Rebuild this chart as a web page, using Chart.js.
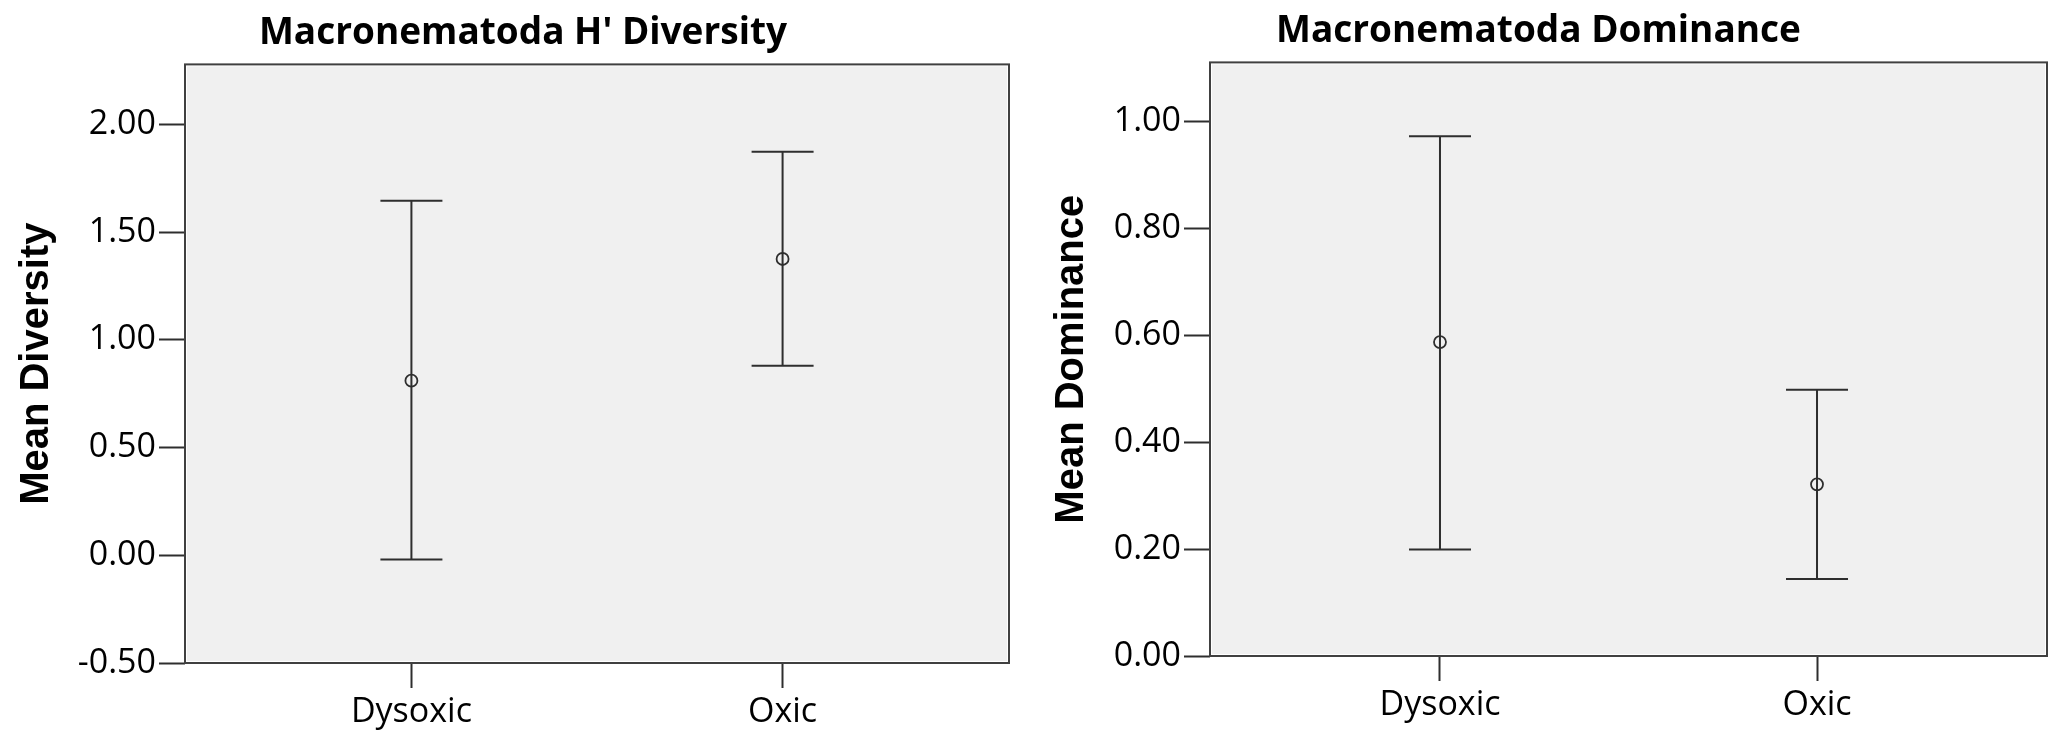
<!DOCTYPE html>
<html lang="en">
<head>
    <meta charset="UTF-8">
    <title>Macronematoda Diversity and Dominance</title>
    <script src="https://cdn.jsdelivr.net/npm/chart.js"></script>
    <style>
        body {
            margin: 0;
            background: #ffffff;
        }
        .panel {
            position: absolute;
            top: 0;
        }
        #left-panel { left: 0; }
        #right-panel { left: 1030px; }
    </style>
</head>
<body>
    <div class="panel" id="left-panel"><canvas id="diversity-chart" width="1046" height="742"></canvas></div>
    <div class="panel" id="right-panel"><canvas id="dominance-chart" width="1037" height="742"></canvas></div>

    <script>
        // Groups on the x axis
        const categories = ['Dysoxic', 'Oxic'];

        // H' diversity: mean with error bar ends
        const diversityMean = [0.81, 1.375];
        const diversityLow = [-0.02, 0.88];
        const diversityHigh = [1.645, 1.873];
        const diversityTicks = [-0.5, 0, 0.5, 1.0, 1.5, 2.0];

        // Dominance: mean with error bar ends
        const dominanceMean = [0.587, 0.321];
        const dominanceLow = [0.199, 0.144];
        const dominanceHigh = [0.972, 0.498];
        const dominanceTicks = [0, 0.2, 0.4, 0.6, 0.8, 1.0];

        const lineColor = '#2e2e2e';
        const frameColor = '#404040';

        // grey plot background + frame round the chart area
        const plotFrame = {
            id: 'plotFrame',
            beforeDraw(chart) {
                const { ctx, chartArea: a } = chart;
                ctx.save();
                ctx.fillStyle = '#f0f0f0';
                ctx.fillRect(a.left + 2, a.top + 2, a.right - a.left - 4, a.bottom - a.top - 4);
                ctx.restore();
            },
            afterDraw(chart) {
                const { ctx, chartArea: a } = chart;
                ctx.save();
                ctx.strokeStyle = frameColor;
                ctx.lineWidth = 2;
                ctx.strokeRect(a.left, a.top, a.right - a.left, a.bottom - a.top);
                ctx.restore();
            }
        };

        // vertical error bars with caps, positioned through the chart scales
        const errorBars = {
            id: 'errorBars',
            beforeDatasetsDraw(chart, args, opts) {
                const { ctx, scales: { x, y } } = chart;
                const capHalf = opts.capHalf || 31;
                ctx.save();
                ctx.strokeStyle = lineColor;
                ctx.lineWidth = 2;
                opts.low.forEach((lo, i) => {
                    const px = x.getPixelForValue(i);
                    const yLo = y.getPixelForValue(lo);
                    const yHi = y.getPixelForValue(opts.high[i]);
                    ctx.beginPath();
                    ctx.moveTo(px, yLo);
                    ctx.lineTo(px, yHi);
                    ctx.moveTo(px - capHalf, yLo);
                    ctx.lineTo(px + capHalf, yLo);
                    ctx.moveTo(px - capHalf, yHi);
                    ctx.lineTo(px + capHalf, yHi);
                    ctx.stroke();
                });
                ctx.restore();
            }
        };

        function makeChart(canvasId, cfg) {
            const ctx = document.getElementById(canvasId).getContext('2d');
            return new Chart(ctx, {
                type: 'scatter',
                data: {
                    datasets: [{
                        data: cfg.mean.map((m, i) => ({ x: i, y: m })),
                        pointStyle: 'circle',
                        pointRadius: 6,
                        pointBorderWidth: 1.8,
                        pointBorderColor: lineColor,
                        pointBackgroundColor: 'rgba(0,0,0,0)',
                        showLine: false
                    }]
                },
                options: {
                    responsive: false,
                    animation: false,
                    layout: {
                        padding: { left: cfg.padLeft, right: cfg.padRight, top: 0, bottom: 0 }
                    },
                    plugins: {
                        legend: { display: false },
                        tooltip: { enabled: false },
                        title: {
                            display: true,
                            text: cfg.title,
                            color: '#000000',
                            font: { family: 'Open Sans', size: 37, weight: '700' },
                            padding: cfg.titlePad
                        },
                        errorBars: { low: cfg.low, high: cfg.high, capHalf: 31 }
                    },
                    scales: {
                        x: {
                            type: 'linear',
                            min: -0.61,
                            max: 1.61,
                            afterBuildTicks: axis => {
                                axis.ticks = categories.map((c, i) => ({ value: i }));
                            },
                            afterFit: axis => { axis.height = cfg.xHeight; },
                            border: { display: false },
                            grid: {
                                drawOnChartArea: false,
                                drawTicks: true,
                                tickLength: 25,
                                tickColor: lineColor,
                                tickWidth: 2
                            },
                            ticks: {
                                color: '#000000',
                                padding: 4,
                                maxRotation: 0,
                                font: { family: 'Open Sans', size: 34 },
                                callback: v => categories[v]
                            }
                        },
                        y: {
                            min: cfg.yMin,
                            max: cfg.yMax,
                            afterBuildTicks: axis => {
                                axis.ticks = cfg.ticks.map(v => ({ value: v }));
                            },
                            afterFit: axis => { axis.width = cfg.yWidth; },
                            border: { display: false },
                            grid: {
                                drawOnChartArea: false,
                                drawTicks: true,
                                tickLength: 26,
                                tickColor: lineColor,
                                tickWidth: 2
                            },
                            ticks: {
                                color: '#000000',
                                padding: 3,
                                font: { family: 'Open Sans', size: 34 },
                                callback: v => v.toFixed(2)
                            },
                            title: {
                                display: true,
                                text: cfg.yTitle,
                                color: '#000000',
                                font: { family: 'Liberation Sans', size: 40, weight: 'bold' },
                                padding: { top: cfg.yTitlePad, bottom: 0 }
                            }
                        }
                    }
                },
                plugins: [plotFrame, errorBars]
            });
        }

        makeChart('diversity-chart', {
            title: "Macronematoda H' Diversity",
            yTitle: 'Mean Diversity',
            mean: diversityMean,
            low: diversityLow,
            high: diversityHigh,
            ticks: diversityTicks,
            yMin: -0.5,
            yMax: 2.278,
            yWidth: 148,
            xHeight: 79,
            padLeft: 37,
            padRight: 37,
            titlePad: { top: 11, bottom: 9 },
            yTitlePad: -24
        });

        makeChart('dominance-chart', {
            title: 'Macronematoda Dominance',
            yTitle: 'Mean Dominance',
            mean: dominanceMean,
            low: dominanceLow,
            high: dominanceHigh,
            ticks: dominanceTicks,
            yMin: 0,
            yMax: 1.11,
            yWidth: 180,
            xHeight: 86,
            padLeft: 0,
            padRight: 20,
            titlePad: { top: 9, bottom: 9 },
            yTitlePad: 18
        });
    </script>
</body>
</html>
